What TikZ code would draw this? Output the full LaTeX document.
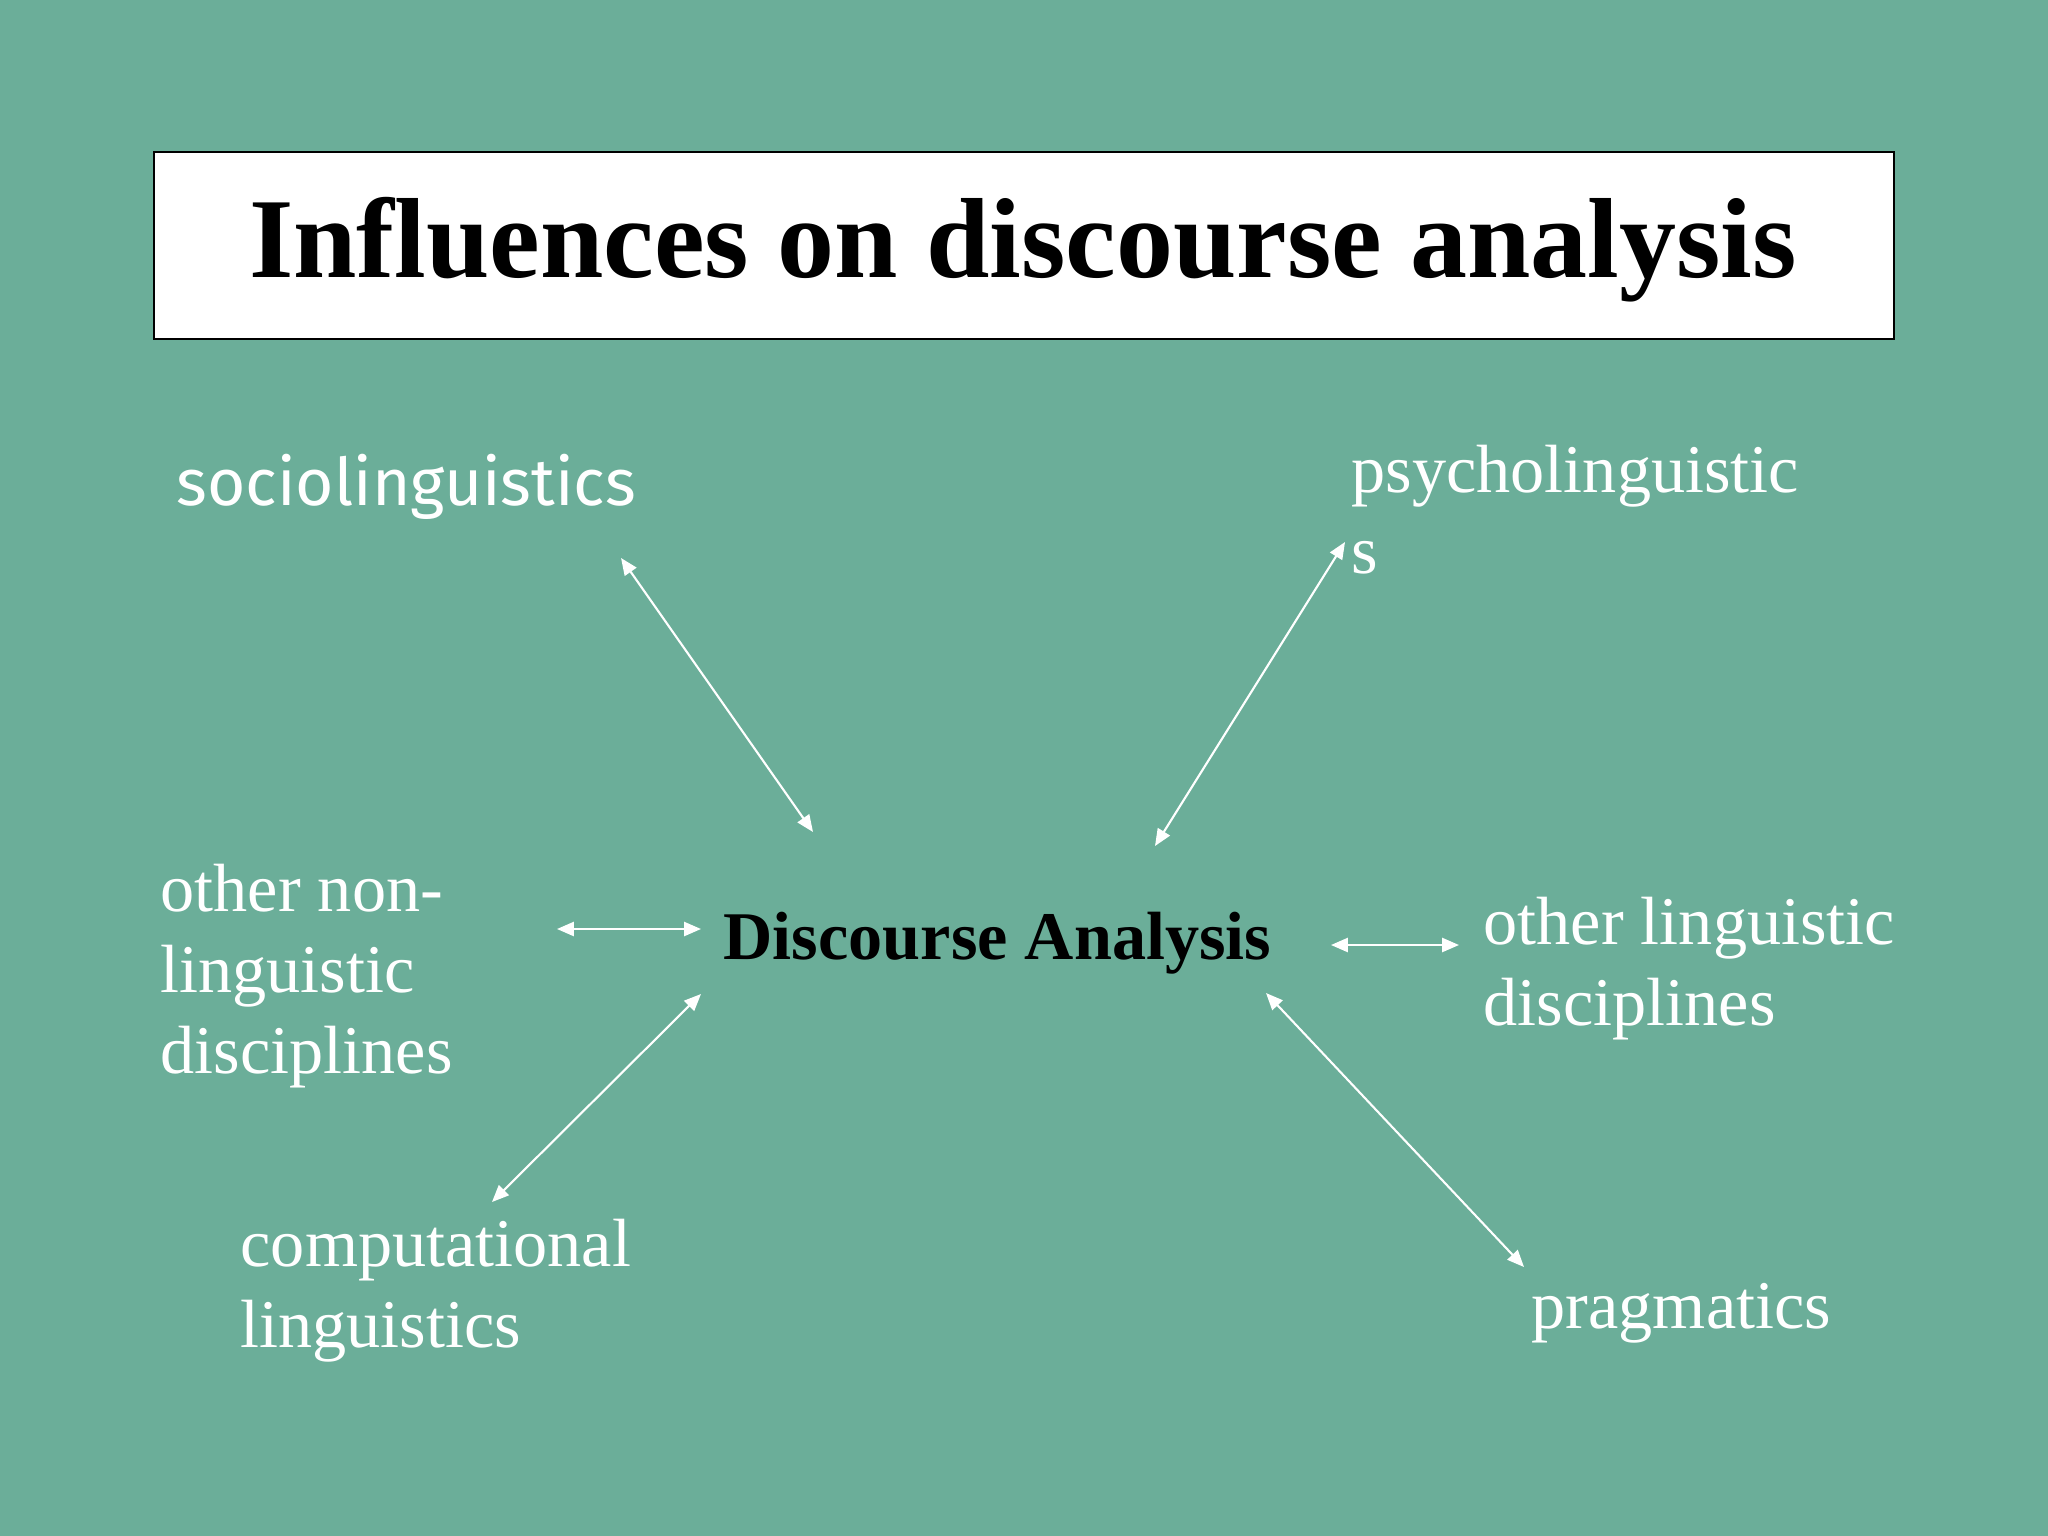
\documentclass[tikz,border=0pt]{standalone}
\usepackage{fontspec}
\setmainfont{Liberation Serif}
\newfontfamily\sociofont{Fira Sans}
\usetikzlibrary{arrows.meta}
\definecolor{slidegreen}{RGB}{107,174,153}
\tikzset{
  label/.style={white, inner sep=0pt, anchor=base west, align=left, font=\fontsize{19.4}{23}\selectfont},
  link/.style={white, line width=0.6pt, {Triangle[length=4.8pt,width=4pt]}-{Triangle[length=4.8pt,width=4pt]}}
}

\begin{document}
\begin{tikzpicture}[x=0.01cm, y=-0.01cm]
	%%%%% START %%%%%
	
	\fill[slidegreen] (0, 0) rectangle (2048, 1536);
	
	\draw[fill=white, line width=0.8pt] (154, 152) rectangle (1894, 339);
	\node[inner sep=0pt, anchor=base, font=\fontsize{32.4}{38}\selectfont\bfseries] (title) at (1023, 277) {Influences on discourse analysis};
	
	\node[inner sep=0pt, anchor=base west, font=\fontsize{19.4}{23}\selectfont\bfseries] (da) at (723, 959) {Discourse Analysis};
	
	% multi-line labels sit on the baseline of their last line
	\node[label, font=\sociofont\fontsize{18.7}{22}\selectfont] (socio) at (176, 505) {sociolinguistics};
	\node[label] (psycho) at (1351, 573) {psycholinguistic\\s};
	\node[label] (nonling) at (160, 1073) {other non-\\linguistic\\disciplines};
	\node[label] (ling) at (1483, 1025) {other linguistic\\disciplines};
	\node[label] (comp) at (240, 1347) {computational\\linguistics};
	\node[label] (prag) at (1531, 1328) {pragmatics};
	
	\coordinate (socio-a) at (621, 558);   \coordinate (socio-b) at (813, 832);
	\coordinate (psycho-a) at (1345, 542); \coordinate (psycho-b) at (1155, 846);
	\coordinate (nonling-a) at (557, 929); \coordinate (nonling-b) at (701, 929);
	\coordinate (ling-a) at (1331, 945);   \coordinate (ling-b) at (1459, 945);
	\coordinate (comp-a) at (492, 1202);   \coordinate (comp-b) at (701, 994);
	\coordinate (prag-a) at (1524, 1267);  \coordinate (prag-b) at (1266, 993);
	
	\draw[link] (socio-a) -- (socio-b);
	\draw[link] (psycho-a) -- (psycho-b);
	\draw[link] (nonling-a) -- (nonling-b);
	\draw[link] (ling-a) -- (ling-b);
	\draw[link] (comp-a) -- (comp-b);
	\draw[link] (prag-a) -- (prag-b);
	
	%%%%% END %%%%%
\end{tikzpicture}
\end{document}
